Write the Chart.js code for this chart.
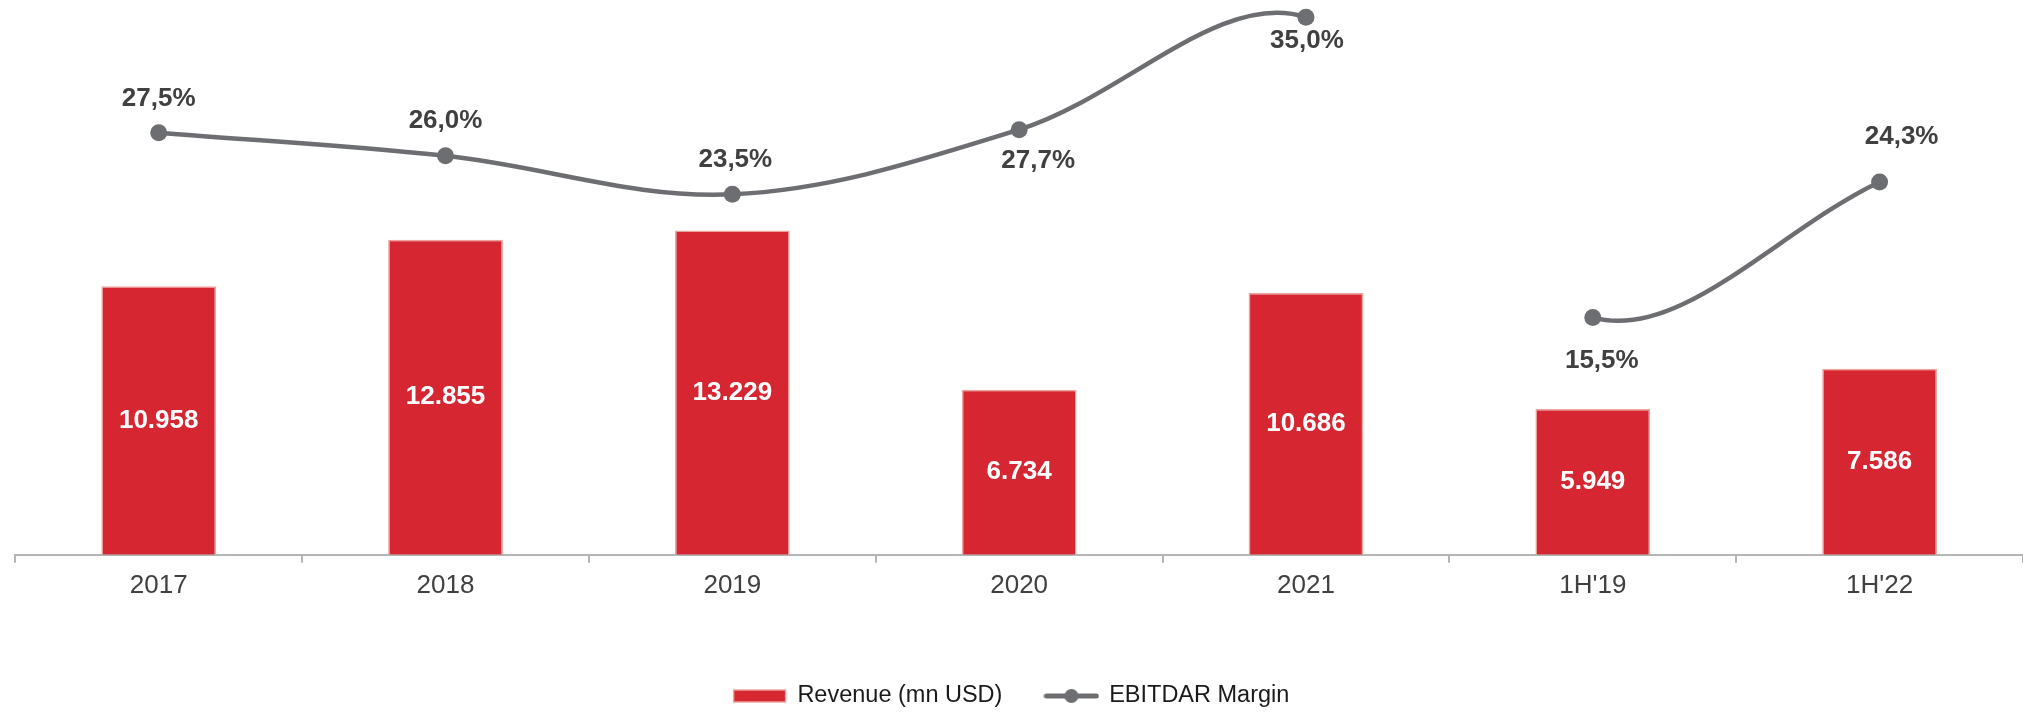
<!DOCTYPE html>
<html>
<head>
<meta charset="utf-8">
<script src="https://cdn.jsdelivr.net/npm/chart.js@4.4.0/dist/chart.umd.min.js"></script>
<style>
html,body{margin:0;padding:0;background:#fff;}
#wrap{width:2023px;height:712px;}
</style>
</head>
<body>
<div id="wrap"><canvas id="c" width="2023" height="712"></canvas></div>
<script>
// ---- data ----
const categories = ['2017', '2018', '2019', '2020', '2021', "1H'19", "1H'22"];
const revenue = [10958, 12855, 13229, 6734, 10686, 5949, 7586];
const ebitdarMargin = [27.5, 26.0, 23.5, 27.7, 35.0, 15.5, 24.3];
const seriesNames = ['Revenue (mn USD)', 'EBITDAR Margin'];
const lineBreakAfter = '2021';

// ---- style ----
const FONT = '"Liberation Sans", Arial, Helvetica, sans-serif';
const RED = '#d52632';
const PINK = '#eca39c';
const GRAY = '#6d6e72';
const AXIS = '#b5b5b5';
// label offsets [dx, dy] in px relative to each line point
const marginLabelOffsets = [[0, -34], [0, -35], [3, -34], [19, 31], [1, 24], [9, 43], [22, -45]];

const fmtThousands = v => Math.round(v).toString().replace(/\B(?=(\d{3})+(?!\d))/g, '.');
const fmtPct = v => v.toFixed(1).replace('.', ',') + '%';

// legend marker for the line series
const legendLine = document.createElement('canvas');
legendLine.width = 56; legendLine.height = 18;
(function () {
  const g = legendLine.getContext('2d');
  g.strokeStyle = GRAY; g.lineWidth = 5; g.lineCap = 'round';
  g.beginPath(); g.moveTo(3, 9); g.lineTo(53, 9); g.stroke();
  g.fillStyle = GRAY; g.beginPath(); g.arc(28, 9, 7, 0, Math.PI * 2); g.fill();
})();

const valueLabels = {
  id: 'valueLabels',
  afterDatasetsDraw(chart) {
    const c = chart.ctx;
    c.save();
    c.textAlign = 'center';
    c.textBaseline = 'middle';
    c.font = 'bold 26px ' + FONT;
    c.fillStyle = '#ffffff';
    chart.getDatasetMeta(0).data.forEach((el, i) => {
      c.fillText(fmtThousands(revenue[i]), el.x, (el.y + el.base) / 2);
    });
    c.fillStyle = '#404040';
    chart.getDatasetMeta(1).data.forEach((el, i) => {
      const o = marginLabelOffsets[i];
      c.fillText(fmtPct(ebitdarMargin[i]), el.x + o[0], el.y + o[1]);
    });
    c.restore();
  }
};

new Chart(document.getElementById('c'), {
  data: {
    labels: categories,
    datasets: [
      {
        type: 'bar',
        label: seriesNames[0],
        data: revenue,
        yAxisID: 'y',
        backgroundColor: RED,
        borderColor: PINK,
        borderWidth: 1.5,
        barPercentage: 0.4,
        categoryPercentage: 1.0
      },
      {
        type: 'line',
        label: seriesNames[1],
        data: ebitdarMargin,
        yAxisID: 'y1',
        borderColor: GRAY,
        borderWidth: 4.5,
        tension: 0.35,
        capBezierPoints: false,
        clip: false,
        fill: false,
        pointRadius: 8.5,
        pointHoverRadius: 8.5,
        pointBackgroundColor: GRAY,
        pointBorderColor: GRAY,
        pointBorderWidth: 0,
        segment: {
          borderColor: ctx => categories[ctx.p0DataIndex] === lineBreakAfter ? 'rgba(0,0,0,0)' : undefined
        }
      }
    ]
  },
  options: {
    responsive: false,
    animation: false,
    events: [],
    layout: { autoPadding: false, padding: { top: 10, left: 0, right: 0, bottom: 0 } },
    scales: {
      x: {
        offset: true,
        grid: { display: true, drawOnChartArea: false, drawTicks: true, tickLength: 8, color: AXIS, lineWidth: 2, offset: true },
        border: { display: true, color: AXIS, width: 2 },
        ticks: { color: '#404040', font: { family: FONT, size: 26 }, padding: 7, maxRotation: 0, autoSkip: false },
        afterFit: s => { s.height = 86.5; s.paddingLeft = 0; s.paddingRight = 0; }
      },
      y: {
        position: 'left',
        min: 0,
        max: 22230,
        display: true,
        ticks: { display: false },
        grid: { display: false },
        border: { display: false },
        afterFit: s => { s.width = 15.3; s.paddingTop = 0; s.paddingBottom = 0; }
      },
      y1: {
        position: 'right',
        min: 0.08,
        max: 35.474,
        display: false
      }
    },
    plugins: {
      tooltip: { enabled: false },
      legend: {
        position: 'bottom',
        align: 'center',
        maxHeight: 70.75,
        labels: {
          usePointStyle: true,
          pointStyleWidth: 52,
          boxHeight: 12,
          padding: 43,
          color: '#1a1a1a',
          font: { family: FONT, size: 23.5 },
          generateLabels: chart => {
            const items = Chart.defaults.plugins.legend.labels.generateLabels(chart);
            items.forEach(it => {
              if (it.datasetIndex === 0) {
                it.pointStyle = 'rect';
                it.fillStyle = RED;
                it.strokeStyle = PINK;
                it.lineWidth = 1.5;
              } else {
                it.pointStyle = legendLine;
              }
              it.fontColor = '#1a1a1a';
            });
            return items;
          }
        }
      }
    }
  },
  plugins: [valueLabels]
});
</script>
</body>
</html>
